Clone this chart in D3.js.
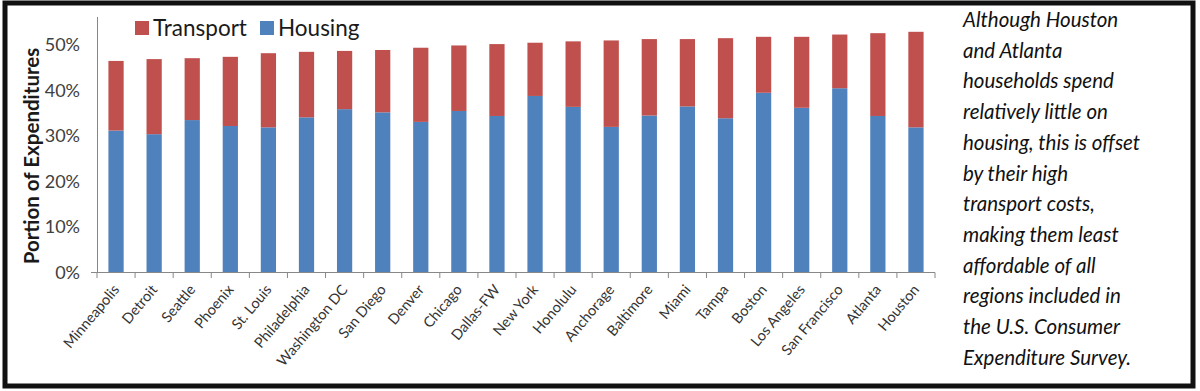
<!DOCTYPE html>
<html>
<head>
<meta charset="utf-8">
<script src="https://cdn.jsdelivr.net/npm/d3@7"></script>
<style>
  html, body { margin: 0; padding: 0; background: #fff; }
  svg { display: block; }
</style>
</head>
<body>
<div id="chart"></div>
<script>
// Data
const cities = ['Minneapolis', 'Detroit', 'Seattle', 'Phoenix', 'St. Louis', 'Philadelphia',
  'Washington DC', 'San Diego', 'Denver', 'Chicago', 'Dallas-FW', 'New York', 'Honolulu',
  'Anchorage', 'Baltimore', 'Miami', 'Tampa', 'Boston', 'Los Angeles', 'San Francisco',
  'Atlanta', 'Houston'];
const housing = [31.2, 30.4, 33.5, 32.2, 31.9, 34.1, 35.9, 35.2, 33.1, 35.5, 34.4, 38.8,
  36.4, 32.0, 34.5, 36.5, 33.9, 39.5, 36.2, 40.5, 34.4, 31.9];
const transport = [15.3, 16.5, 13.6, 15.2, 16.3, 14.4, 12.8, 13.7, 16.3, 14.4, 15.8, 11.7,
  14.4, 19.0, 16.8, 14.8, 17.6, 12.3, 15.6, 11.8, 18.2, 21.0];
const yTicks = [0, 10, 20, 30, 40, 50];
const note = ['Although Houston', 'and Atlanta', 'households spend', 'relatively little on',
  'housing, this is offset', 'by their high', 'transport costs,', 'making them least',
  'affordable of all', 'regions included in', 'the U.S. Consumer', 'Expenditure Survey.'];

const W = 1200, H = 391;
const FONT = "Lato, 'Open Sans', sans-serif";
const COLORS = { transport: '#C0504D', housing: '#4F81BD' };

const svg = d3.select('#chart').append('svg')
  .attr('width', W)
  .attr('height', H);

// Outer frame
svg.append('rect')
  .attr('x', 5).attr('y', 3)
  .attr('width', 1188).attr('height', 383)
  .attr('fill', '#fff')
  .attr('stroke', '#111')
  .attr('stroke-width', 5);

// Scales
const x = d3.scaleBand()
  .domain(cities)
  .range([97, 935])
  .paddingInner(0.6)
  .paddingOuter(0.3);

const y = d3.scaleLinear()
  .domain([0, 50])
  .range([272.5, 45]);

const rows = cities.map((c, i) => ({ city: c, housing: housing[i], transport: transport[i] }));
const stacked = d3.stack().keys(['housing', 'transport'])(rows);

// Bars
svg.append('g')
  .selectAll('g')
  .data(stacked)
  .join('g')
  .attr('fill', d => COLORS[d.key])
  .selectAll('rect')
  .data(d => d)
  .join('rect')
  .attr('x', d => x(d.data.city))
  .attr('width', x.bandwidth())
  .attr('y', d => y(d[1]))
  .attr('height', d => y(d[0]) - y(d[1]));

// Y axis
const yAxis = svg.append('g')
  .attr('transform', 'translate(97,0)')
  .call(d3.axisLeft(y).tickValues(yTicks).tickSize(0).tickPadding(17).tickFormat(d => d + '%'));
yAxis.select('.domain').remove();
yAxis.append('line')
  .attr('x1', 0.5).attr('x2', 0.5)
  .attr('y1', 17).attr('y2', 272.5)
  .attr('stroke', '#888');
yAxis.append('line')
  .attr('x1', -6).attr('x2', 0)
  .attr('y1', 272.5).attr('y2', 272.5)
  .attr('stroke', '#888');
yAxis.selectAll('text')
  .attr('font-family', FONT)
  .attr('font-size', 18)
  .attr('fill', '#404040');

// X axis: tick marks on category boundaries
const step = x.step();
const boundaries = d3.range(cities.length + 1).map(i => 97 + i * step);
const xAxis = svg.append('g');
xAxis.append('line')
  .attr('x1', 97).attr('x2', 935)
  .attr('y1', 272.5).attr('y2', 272.5)
  .attr('stroke', '#888');
xAxis.selectAll('line.tick')
  .data(boundaries)
  .join('line')
  .attr('class', 'tick')
  .attr('x1', d => d).attr('x2', d => d)
  .attr('y1', 272.5).attr('y2', 278)
  .attr('stroke', '#888');
xAxis.selectAll('text')
  .data(cities)
  .join('text')
  .attr('transform', d => `translate(${x(d) + x.bandwidth() / 2 + 4},${290}) rotate(-50)`)
  .attr('text-anchor', 'end')
  .attr('font-family', FONT)
  .attr('font-size', 14.5)
  .attr('fill', '#333')
  .text(d => d);

// Y axis title
svg.append('text')
  .attr('transform', 'translate(39,156) rotate(-90)')
  .attr('text-anchor', 'middle')
  .attr('font-family', FONT)
  .attr('font-weight', 'bold')
  .attr('font-size', 20.5)
  .attr('fill', '#1a1a1a')
  .text('Portion of Expenditures');

// Legend
const legendItems = [
  { label: 'Transport', color: COLORS.transport, x: 135 },
  { label: 'Housing', color: COLORS.housing, x: 260 }
];
const legend = svg.append('g').selectAll('g')
  .data(legendItems)
  .join('g')
  .attr('transform', d => `translate(${d.x},21)`);
legend.append('rect')
  .attr('width', 14).attr('height', 14)
  .attr('fill', d => d.color);
legend.append('text')
  .attr('x', 18).attr('y', 14.5)
  .attr('font-family', FONT)
  .attr('font-size', 22.5)
  .attr('fill', '#1a1a1a')
  .text(d => d.label);

// Side note
svg.append('g').selectAll('text')
  .data(note)
  .join('text')
  .attr('x', 963)
  .attr('y', (d, i) => 27 + i * 30.7)
  .attr('font-family', FONT)
  .attr('font-style', 'italic')
  .attr('font-size', 20.5)
  .attr('fill', '#111')
  .text(d => d);
</script>
</body>
</html>
